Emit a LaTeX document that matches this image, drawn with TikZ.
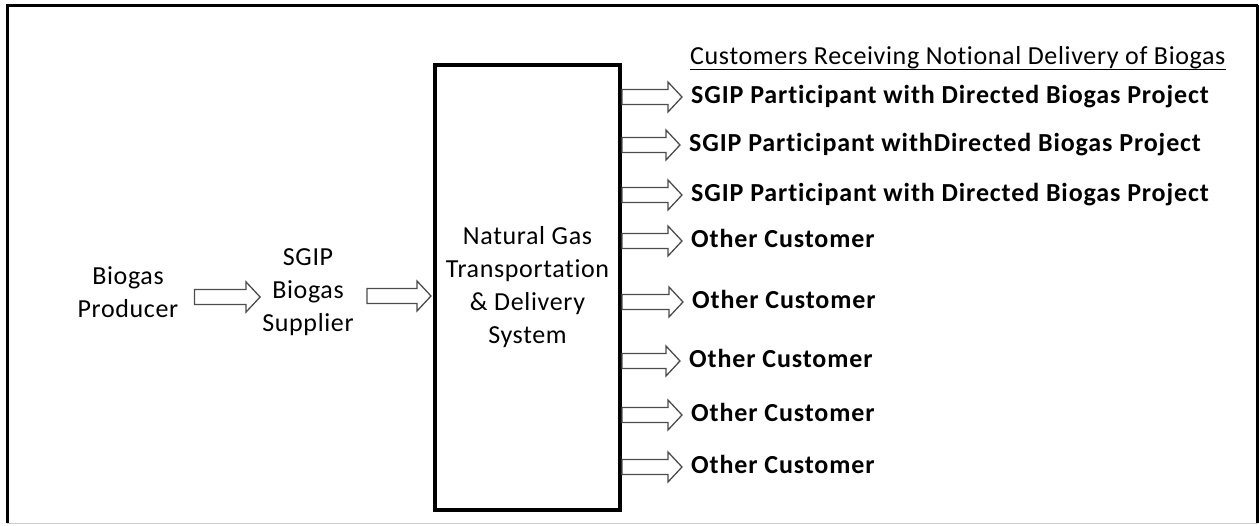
\documentclass[tikz,border=0pt]{standalone}
\usepackage{fontspec}
\setmainfont{Carlito}[LetterSpace=2.5, Ligatures={NoCommon}]
\usetikzlibrary{calc}
\definecolor{arrowgray}{gray}{0.3}
\definecolor{framegray}{gray}{0.80}

\begin{document}
\begin{tikzpicture}[x=1pt,y=-1pt,
  txt/.style={inner sep=0pt, font=\fontsize{26}{33}\selectfont, align=center},
  cust/.style={inner sep=0pt, anchor=west,
               font=\fontsize{26}{29}\selectfont\bfseries\addfontfeature{LetterSpace=3.4},
               text height=18pt, text depth=5pt},
  sysbox/.style={draw, line width=4pt, inner sep=0pt, minimum width=185pt, minimum height=445pt,
                 font=\fontsize{26}{33}\selectfont, align=center},
  blockarrow/.style={draw=arrowgray, line width=1.3pt, line join=miter,
    to path={let \p1=(\tikztostart), \p2=(\tikztotarget) in
      (\x1,{\y1+7.5pt}) -- ({\x2-14pt},{\y1+7.5pt}) -- ({\x2-14pt},{\y1+15pt}) -- (\x2,\y1)
      -- ({\x2-14pt},{\y1-15pt}) -- ({\x2-14pt},{\y1-7.5pt}) -- (\x1,{\y1-7.5pt}) -- cycle}}]
\useasboundingbox (0,0) rectangle (1259,526);

% outer frame: dark on three sides, light rule along the bottom
\draw[framegray, line width=1.5pt] (7,523.5) -- (1258,523.5);
\draw[line width=3pt] (7.5,523) -- (7.5,5.5) -- (1257.5,5.5);
\draw[line width=2.2pt] (1257.5,5.5) -- (1257.5,523);

% supply chain on the left
\node[txt] (prod) at (128,292) {Biogas\\Producer};
\node[txt] (sup) at (308,292) {SGIP\\Biogas\\Supplier};
\node[sysbox] (ngs) at (527.5,287.5) {Natural Gas\\Transportation\\\& Delivery\\System};

\draw[blockarrow] ([xshift=16pt,yshift=-5pt]prod.east) to ([xshift=-2pt]sup.west);
\draw[blockarrow] ([xshift=13pt,yshift=-4pt]sup.east) to ([xshift=-2pt]ngs.west);

% customers
\node[inner sep=0pt, anchor=base west, font=\fontsize{26}{29}\selectfont] (head) at (690,65)
  {Customers Receiving Notional Delivery of Biogas};
\draw[line width=1.4pt] ([yshift=-4.5pt]head.base west) -- ([yshift=-4.5pt]head.base east);

\node[cust] (c1) at (691,97)  {SGIP Participant with Directed Biogas Project};
\node[cust] (c2) at (689,145) {SGIP Participant withDirected Biogas Project};
\node[cust] (c3) at (691,195) {SGIP Participant with Directed Biogas Project};
\node[cust] (c4) at (691,241) {Other Customer};
\node[cust] (c5) at (692,302) {Other Customer};
\node[cust] (c6) at (689,361) {Other Customer};
\node[cust] (c7) at (691,415) {Other Customer};
\node[cust] (c8) at (691,467) {Other Customer};

\foreach \c in {c1,c2,c3,c4,c5,c6,c7,c8}
  \draw[blockarrow] (ngs.east |- \c.west) to ([xshift=-9pt]\c.west);
\end{tikzpicture}
\end{document}
